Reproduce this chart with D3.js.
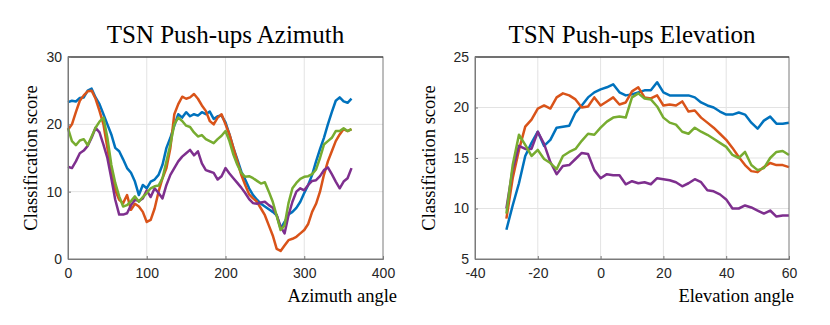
<!DOCTYPE html>
<html><head><meta charset="utf-8">
<script src="https://cdn.jsdelivr.net/npm/d3@7"></script>
<style>body{margin:0;background:#fff}svg{display:block}</style>
</head><body>
<script>
// ---------- DATA ----------
const azAngles = d3.range(0, 361, 5);
const azBlue = [23.3,23.5,23.4,23.9,24.0,25.0,25.3,24.0,23.0,21.5,20.0,18.5,16.5,16.0,14.8,13.5,12.8,11.5,9.5,11.0,10.5,11.5,11.8,12.5,14.0,16.5,18.0,19.8,21.5,21.0,21.8,21.2,21.5,21.3,21.8,21.5,21.9,20.8,21.2,21.3,20.3,18.5,16.5,14.8,13.0,11.8,10.5,9.5,8.8,8.2,7.8,7.4,7.0,6.5,4.5,5.5,6.6,7.0,7.6,8.5,9.8,11.0,12.5,14.5,16.3,18.0,20.0,21.8,23.5,24.0,23.4,23.2,23.8];
const azOrange = [19.2,20.0,21.8,23.5,24.3,24.9,25.0,23.8,22.0,20.0,16.5,13.0,10.2,8.8,8.3,9.5,7.3,8.2,7.8,7.0,5.5,5.8,7.5,10.0,12.0,13.5,16.5,21.5,23.0,24.1,23.8,24.0,24.5,23.8,22.8,22.0,20.5,20.0,21.0,21.5,20.0,18.5,16.5,14.5,12.5,11.0,9.6,9.0,8.5,7.5,6.5,5.0,3.5,1.5,1.2,2.0,2.8,3.0,3.3,3.8,4.3,5.2,7.0,8.2,10.0,12.5,14.5,16.0,17.5,18.5,19.3,19.0,19.3];
const azPurple = [13.7,13.5,14.5,15.7,16.1,16.8,18.0,19.5,18.8,17.0,15.0,12.0,8.8,6.6,6.6,6.8,8.0,8.8,8.6,9.0,10.2,9.2,10.5,9.8,9.0,11.0,12.5,13.5,14.5,15.2,15.7,16.2,15.4,16.0,14.2,13.2,13.0,12.8,11.8,12.3,13.5,12.7,12.0,11.3,10.6,9.8,8.9,8.3,8.2,8.4,8.5,8.0,7.6,6.5,4.8,3.8,6.5,8.5,10.0,10.5,10.2,11.0,11.6,11.7,12.3,13.2,13.6,12.6,11.5,10.5,11.5,12.0,13.5];
const azGreen = [19.4,17.5,16.9,17.6,17.8,16.9,18.2,19.5,20.4,21.0,18.0,14.0,11.3,9.3,7.8,8.0,8.6,9.3,8.5,9.2,9.8,10.5,10.8,10.9,12.0,14.5,17.0,20.0,21.0,20.5,19.8,19.6,18.8,18.2,18.4,17.8,17.5,17.2,17.8,18.3,19.0,17.5,15.5,14.0,12.8,12.2,12.3,12.0,11.6,11.2,11.4,10.0,8.5,6.4,4.3,5.0,8.3,10.5,11.3,11.9,12.2,12.3,12.6,13.3,15.0,17.0,17.5,18.0,19.0,19.0,19.4,19.0,19.3];

const elAngles = d3.range(-30, 61, 2);
const elBlue = [7.9,10.3,12.5,15.2,16.5,17.6,16.2,16.8,18.0,18.1,18.2,19.5,20.2,21.0,21.5,21.8,22.0,22.3,21.5,21.2,21.3,21.5,21.7,21.7,22.5,21.5,21.2,21.2,21.2,21.2,21.0,20.5,20.2,20.0,19.6,19.3,19.3,19.5,19.3,18.5,17.9,18.7,19.1,18.4,18.4,18.5];
const elOrange = [9.0,13.0,15.8,18.1,18.8,19.9,20.2,19.9,21.0,21.4,21.2,20.8,20.0,20.1,21.0,20.2,20.6,21.0,20.3,20.5,21.6,22.0,21.0,20.9,21.2,20.2,20.3,20.2,20.6,19.6,19.7,19.0,18.5,18.0,17.4,16.8,16.0,15.1,14.3,13.7,13.6,14.1,14.5,14.3,14.3,14.1];
const elPurple = [10.0,13.9,16.2,15.9,15.9,17.6,16.4,14.6,13.4,14.2,14.3,14.9,15.5,15.4,13.8,13.0,13.4,13.3,13.3,12.4,12.7,12.5,12.6,12.4,13.0,12.9,12.8,12.6,12.2,12.5,12.9,12.6,11.8,11.7,11.4,10.9,10.0,10.0,10.3,10.1,9.8,9.5,9.8,9.2,9.3,9.3];
const elGreen = [9.5,14.3,17.3,16.3,15.2,15.8,14.9,14.5,13.9,15.2,15.6,15.9,16.7,17.4,17.3,18.0,18.6,19.0,19.1,19.0,21.0,21.4,20.9,20.8,20.1,19.0,18.5,18.3,17.6,17.4,18.0,17.6,17.3,16.9,16.5,16.1,15.3,15.0,15.6,14.3,13.8,14.0,15.0,15.6,15.7,15.3];

const azXTicks = [0,100,200,300,400];
const azYTicks = [0,10,20,30];
const elXTicks = [-40,-20,0,20,40,60];
const elYTicks = [5,10,15,20,25];

const colors = ["#0072BD","#D95319","#7E2F8E","#77AC30"];

// ---------- DRAW ----------
const svg = d3.select("body").append("svg").attr("width",830).attr("height",325);
const serif = "'Liberation Serif','Times New Roman',Times,serif";

function panel(cfg){
  const {x0,x1,y0,y1,xDom,yDom,xTicks,yTicks,xs,series,title,xlabel,ylabelX,xlabelEnd} = cfg;
  const x = d3.scaleLinear().domain(xDom).range([x0,x1]);
  const y = d3.scaleLinear().domain(yDom).range([y1,y0]);
  const g = svg.append("g");
  // grid
  g.append("g").selectAll("line").data(xTicks.slice(1,-1)).join("line")
    .attr("x1",d=>x(d)).attr("x2",d=>x(d)).attr("y1",y0).attr("y2",y1)
    .attr("stroke","#e3e3e3").attr("stroke-width",1);
  g.append("g").selectAll("line").data(yTicks.slice(1,-1)).join("line")
    .attr("y1",d=>y(d)).attr("y2",d=>y(d)).attr("x1",x0).attr("x2",x1)
    .attr("stroke","#e3e3e3").attr("stroke-width",1);
  // lines
  const line = d3.line().x((d,i)=>x(xs[i])).y(d=>y(d));
  series.forEach((s,i)=>{
    g.append("path").datum(s).attr("d",line).attr("fill","none")
      .attr("stroke",colors[i]).attr("stroke-width",2.5).attr("stroke-linejoin","round");
  });
  // box
  g.append("rect").attr("x",x0).attr("y",y0).attr("width",x1-x0).attr("height",y1-y0)
    .attr("fill","none").attr("stroke","#7a7a7a").attr("stroke-width",1);
  g.append("line").attr("x1",x0).attr("x2",x1).attr("y1",y0).attr("y2",y0).attr("stroke","#262626");
  // axes
  const xa = g.append("g").attr("transform",`translate(0,${y1})`)
    .call(d3.axisBottom(x).tickValues(xTicks).tickSize(-3).tickPadding(9).tickFormat(d=>String(d)));
  const ya = g.append("g").attr("transform",`translate(${x0},0)`)
    .call(d3.axisLeft(y).tickValues(yTicks).tickSize(-3).tickPadding(6).tickFormat(d=>String(d)));
  [xa,ya].forEach(a=>{
    a.select(".domain").attr("stroke","#7a7a7a");
    a.selectAll(".tick line").attr("stroke","#7a7a7a");
    a.selectAll("text").attr("font-family","'Liberation Sans', Arial, sans-serif")
      .attr("font-size",14).attr("fill","#262626");
  });
  // title
  g.append("text").attr("x",(x0+x1)/2).attr("y",43).attr("text-anchor","middle")
    .attr("font-family",serif).attr("font-size",25)
    .attr("fill","#000").text(title);
  // x label
  g.append("text").attr("x",xlabelEnd).attr("y",302).attr("text-anchor","end")
    .attr("font-family",serif).attr("font-size",18.5)
    .attr("fill","#000").text(xlabel);
  // y label
  g.append("text").attr("transform",`translate(${ylabelX},${(y0+y1)/2}) rotate(-90)`)
    .attr("text-anchor","middle")
    .attr("font-family",serif).attr("font-size",18.5)
    .attr("fill","#000").text("Classification score");
}

panel({x0:68,x1:383,y0:57,y1:259,xDom:[0,400],yDom:[0,30],xTicks:azXTicks,yTicks:azYTicks,
  xs:azAngles,series:[azBlue,azOrange,azPurple,azGreen],
  title:"TSN Push-ups Azimuth",xlabel:"Azimuth angle",ylabelX:37,xlabelEnd:397});
panel({x0:475,x1:789,y0:57,y1:259,xDom:[-40,60],yDom:[5,25],xTicks:elXTicks,yTicks:elYTicks,
  xs:elAngles,series:[elBlue,elOrange,elPurple,elGreen],
  title:"TSN Push-ups Elevation",xlabel:"Elevation angle",ylabelX:435,xlabelEnd:794});
</script>
</body></html>
